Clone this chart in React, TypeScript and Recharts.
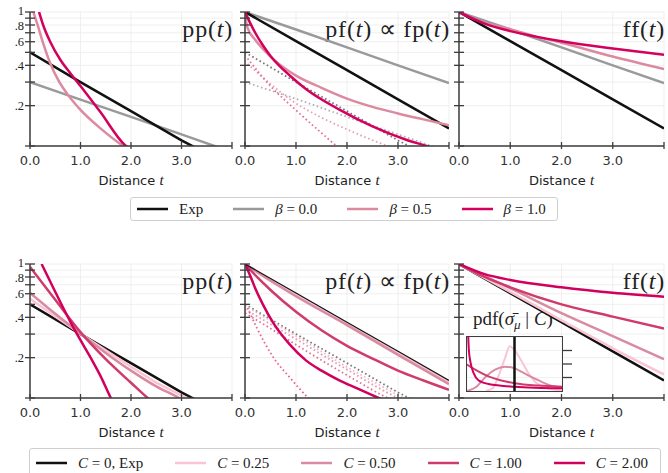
import type { ReactNode } from 'react'
import { CartesianGrid, Line, LineChart, ReferenceLine, XAxis, YAxis } from 'recharts'

type Pt = [number, number]

// ---- top row: beta family (t, value) ----
const PP_EXP: Pt[] = [[0, 0.5], [1, 0.3], [2, 0.182], [3, 0.11], [3.4, 0.092]]
const PP_B0: Pt[] = [[0, 0.3], [1, 0.222], [2, 0.165], [3, 0.122], [4, 0.09]]
const PP_B05: Pt[] = [[0.066, 1], [0.16, 0.78], [0.26, 0.585], [0.4, 0.415], [0.56, 0.31], [0.73, 0.247], [1, 0.186], [1.39, 0.136], [1.85, 0.1], [1.95, 0.095]]
const PP_B1: Pt[] = [[0.18, 1], [0.26, 0.8], [0.4, 0.6], [0.6, 0.44], [0.81, 0.345], [1, 0.28], [1.39, 0.18], [1.9, 0.1], [2, 0.094]]

const PF_EXP: Pt[] = [[0, 1], [1, 0.607], [2, 0.368], [3, 0.223], [4, 0.135]]
const PF_B0: Pt[] = [[0, 1], [1, 0.74], [2, 0.545], [3, 0.4], [4, 0.295]]
const PF_B05: Pt[] = [[0, 0.95], [0.05, 0.76], [0.2, 0.62], [0.5, 0.465], [1, 0.335], [1.5, 0.272], [2, 0.226], [2.5, 0.196], [3, 0.175], [3.5, 0.158], [4, 0.143]]
const PF_B1: Pt[] = [[0, 1], [0.1, 0.83], [0.2, 0.7], [0.35, 0.565], [0.5, 0.47], [0.9, 0.33], [1.2, 0.265], [1.86, 0.186], [2.5, 0.14], [3.2, 0.11], [3.56, 0.1], [3.7, 0.096]]
const PF_DOT_EXP: Pt[] = [[0, 0.5], [1, 0.3], [2, 0.182], [3, 0.11], [3.4, 0.092]]
const PF_DOT_B0: Pt[] = [[0, 0.3], [1, 0.225], [2, 0.165], [3, 0.122], [3.8, 0.096]]
const PF_DOT_B05: Pt[] = [[0.05, 0.41], [0.5, 0.29], [0.95, 0.214], [1.5, 0.163], [2.06, 0.13], [2.8, 0.1], [2.9, 0.097]]
const PF_DOT_B1: Pt[] = [[0.05, 0.45], [0.5, 0.28], [1, 0.185], [1.5, 0.125], [1.8, 0.1], [1.9, 0.094]]

const FF_B05: Pt[] = [[0, 1], [0.5, 0.83], [1, 0.745], [1.5, 0.655], [2, 0.59], [3, 0.465], [4, 0.375]]
const FF_B1: Pt[] = [[0, 1], [0.5, 0.82], [1, 0.72], [1.5, 0.655], [2, 0.605], [3, 0.535], [4, 0.48]]

// ---- bottom row: C family ----
const PP_C025: Pt[] = [[0, 0.55], [0.5, 0.405], [1, 0.302], [1.5, 0.227], [2, 0.171], [2.5, 0.13], [3.1, 0.1], [3.2, 0.096]]
const PP_C05: Pt[] = [[0, 0.61], [0.5, 0.425], [1, 0.302], [1.5, 0.217], [2, 0.16], [2.5, 0.122], [2.95, 0.1], [3.05, 0.095]]
const PP_C1: Pt[] = [[0, 0.95], [0.5, 0.54], [1, 0.31], [1.5, 0.195], [2, 0.13], [2.33, 0.1], [2.45, 0.092]]
const PP_C2: Pt[] = [[0.23, 1], [0.4, 0.74], [0.6, 0.52], [0.8, 0.37], [1, 0.27], [1.2, 0.2], [1.4, 0.145], [1.6, 0.1], [1.7, 0.085]]

const PF_C025: Pt[] = [[0, 1], [0.5, 0.77], [1, 0.59], [2, 0.358], [3, 0.216], [4, 0.131]]
const PF_C05: Pt[] = [[0, 1], [0.5, 0.75], [1, 0.575], [2, 0.35], [3, 0.21], [4, 0.127]]
const PF_C1: Pt[] = [[0, 1], [0.25, 0.79], [0.5, 0.64], [1, 0.44], [1.5, 0.32], [2, 0.245], [2.5, 0.197], [3, 0.16], [3.5, 0.135], [4, 0.115]]
const PF_C2: Pt[] = [[0, 1], [0.1, 0.82], [0.2, 0.66], [0.35, 0.5], [0.56, 0.36], [0.88, 0.25], [1.2, 0.19], [1.5, 0.16], [1.86, 0.135], [2.2, 0.118], [2.62, 0.1], [2.75, 0.095]]
const PF_DOT_C025: Pt[] = [[0, 0.49], [1, 0.29], [2, 0.17], [3.1, 0.1], [3.2, 0.096]]
const PF_DOT_C05: Pt[] = [[0, 0.46], [1, 0.275], [2, 0.163], [3, 0.1], [3.1, 0.096]]
const PF_DOT_C1: Pt[] = [[0, 0.43], [0.5, 0.33], [1, 0.25], [2, 0.148], [2.8, 0.1], [2.9, 0.096]]
const PF_DOT_C2: Pt[] = [[0.05, 0.47], [0.23, 0.335], [0.56, 0.2], [0.88, 0.142], [1.24, 0.1], [1.3, 0.095]]

const FF_C025: Pt[] = [[0, 1], [1, 0.62], [2, 0.38], [3, 0.235], [4, 0.15]]
const FF_C05: Pt[] = [[0, 1], [1, 0.66], [2, 0.43], [3, 0.29], [4, 0.195]]
const FF_C1: Pt[] = [[0, 1], [0.5, 0.8], [1, 0.67], [2, 0.5], [3, 0.405], [4, 0.33]]
const FF_C2: Pt[] = [[0, 1], [0.5, 0.84], [1, 0.76], [2, 0.67], [3, 0.61], [4, 0.57]]

// inset: pdf of sigma_mu given C
const PDF_C025: Pt[] = [[0.4, 0], [0.55, 0.06], [0.66, 0.27], [0.8, 0.61], [0.9, 0.83], [1, 0.76], [1.15, 0.55], [1.3, 0.32], [1.43, 0.17], [1.7, 0.05], [2, 0.01]]
const PDF_C05: Pt[] = [[0, 0], [0.2, 0.08], [0.4, 0.27], [0.6, 0.4], [0.8, 0.45], [1, 0.42], [1.2, 0.33], [1.5, 0.2], [1.8, 0.09], [2, 0.05]]
const PDF_C1: Pt[] = [[0, 0.49], [0.2, 0.38], [0.45, 0.27], [0.7, 0.2], [1, 0.145], [1.5, 0.1], [2, 0.08]]
const PDF_C2: Pt[] = [[0.02, 1.15], [0.04, 0.75], [0.07, 0.55], [0.14, 0.33], [0.24, 0.2], [0.45, 0.13], [1, 0.08], [2, 0.05]]

const X_TICKS = [0, 1, 2, 3, 4]
const Y_TICKS = [0.1, 0.2, 0.3, 0.4, 0.5, 0.6, 0.7, 0.8, 0.9, 1]
const Y_LABELS: Record<string, string> = { '1': '1', '0.8': '.8', '0.6': '.6', '0.4': '.4', '0.2': '.2' }

const COL = {
  exp: '#111111',
  b0: '#9a9a9a',
  b05: '#dc8aa0',
  b1: '#d3005d',
  c025: '#fbc4d5',
  c05: '#d98ba1',
  c1: '#cf3c6b',
  c2: '#d1005e',
}

const SANS = '"DejaVu Sans", sans-serif'
const SERIF = '"Liberation Serif", serif'
const AXIS_COLOR = '#3d3d3d'
const AXIS_LINE = { stroke: AXIS_COLOR, strokeWidth: 1.5 }

const AXIS_W = 30
const PAD_TOP = 12
const PAD_RIGHT = 4
const X_H = 46
const PLOT_H = 134
const ROW_TOP = [12, 264]
const COLS = [
  { left: 30, w: 202 },
  { left: 245, w: 204 },
  { left: 459, w: 205 },
]

type Series = { d: Pt[]; c: string; sw?: number; dot?: boolean; curve?: boolean; op?: number }

const rows = (d: Pt[]) => d.map(([t, v]) => ({ t, v }))

function XTick(p: any) {
  const v = p.payload.value
  return (
    <g>
      <line x1={p.x} x2={p.x} y1={p.y - 4} y2={p.y + 3} stroke={AXIS_COLOR} strokeWidth={1.3} />
      {v < 4 && (
        <text x={p.x} y={p.y + 19} textAnchor="middle" fontFamily={SANS} fontSize={13} fill="#333">
          {v.toFixed(1)}
        </text>
      )}
    </g>
  )
}

function YTick(p: any) {
  const v = p.payload.value
  const lab = p.labels ? Y_LABELS[String(v)] : undefined
  return (
    <g>
      <line x1={p.x - 5} x2={p.x + 5} y1={p.y} y2={p.y} stroke={AXIS_COLOR} strokeWidth={1.3} />
      {lab && (
        <text x={p.x - 6} y={p.y + (v === 1 ? -1 : 1)} dy="0.3em" textAnchor="end" fontFamily={SERIF} fontSize={12.5} fill="#222">
          {lab}
        </text>
      )}
    </g>
  )
}

function Title({ w, children }: { w: number; children: ReactNode }) {
  return (
    <text x={AXIS_W + w + 1} y={PAD_TOP + 25} textAnchor="end" fontFamily={SERIF} fontSize={24} letterSpacing={0.8} fill="#222">
      {children}
    </text>
  )
}

const It = ({ children }: { children: ReactNode }) => <tspan fontStyle="italic">{children}</tspan>

function Panel({ row, col, series, title, labels, extra }: { row: number; col: number; series: Series[]; title: ReactNode; labels: boolean; extra?: ReactNode }) {
  const { left, w } = COLS[col]
  const top = ROW_TOP[row]
  return (
    <div style={{ position: 'absolute', left: left - AXIS_W, top: top - PAD_TOP }}>
      <LineChart width={w + AXIS_W + PAD_RIGHT} height={PLOT_H + PAD_TOP + X_H} margin={{ top: PAD_TOP, right: PAD_RIGHT, bottom: 0, left: 0 }}>
        <CartesianGrid stroke="#ebebeb" strokeWidth={0.8} />
        <XAxis type="number" dataKey="t" domain={[0, 4]} ticks={X_TICKS} interval={0} allowDataOverflow height={X_H} tickSize={0} tickMargin={0} axisLine={AXIS_LINE} tickLine={false} tick={<XTick />} />
        <XAxis xAxisId="top" orientation="top" type="number" dataKey="t" domain={[0, 4]} height={0} tick={false} tickLine={false} axisLine={AXIS_LINE} />
        <YAxis type="number" scale="log" domain={[0.1, 1]} ticks={Y_TICKS} interval={0} allowDataOverflow width={AXIS_W} tickSize={0} tickMargin={0} axisLine={AXIS_LINE} tickLine={false} tick={(p: any) => <YTick {...p} labels={labels} />} />
        <YAxis yAxisId="right" orientation="right" type="number" domain={[0.1, 1]} width={0} tick={false} tickLine={false} axisLine={AXIS_LINE} />
        {series.map((s, i) => (
          <Line
            key={i}
            data={rows(s.d)}
            dataKey="v"
            type={s.curve ? 'monotone' : 'linear'}
            stroke={s.c}
            strokeWidth={s.sw ?? (s.dot ? 1.8 : 2.5)}
            strokeDasharray={s.dot ? '1.6 2.6' : undefined}
            strokeOpacity={s.op ?? 1}
            dot={false}
            activeDot={false}
            isAnimationActive={false}
          />
        ))}
        <Title w={w}>{title}</Title>
        <text x={AXIS_W + w / 2} y={PAD_TOP + PLOT_H + 39} textAnchor="middle" fontFamily={SANS} fontSize={13} fill="#222">
          Distance <tspan fontFamily={SERIF} fontStyle="italic" fontSize={15}>t</tspan>
        </text>
        {extra}
      </LineChart>
    </div>
  )
}

// inset plot rectangle (page coordinates)
const INSET = { left: 467, top: 337, w: 95, h: 54 }

function Inset() {
  const series: Series[] = [
    { d: PDF_C025, c: COL.c025 },
    { d: PDF_C05, c: COL.c05 },
    { d: PDF_C1, c: COL.c1 },
    { d: PDF_C2, c: COL.c2 },
  ]
  return (
    <>
      <div style={{ position: 'absolute', left: INSET.left, top: INSET.top, width: INSET.w, height: INSET.h, background: '#fff' }} />
      <div style={{ position: 'absolute', left: INSET.left, top: INSET.top }}>
        <LineChart width={INSET.w + 12} height={INSET.h} margin={{ top: 0, right: 0, bottom: 0, left: 0 }}>
          <CartesianGrid stroke="#ececec" strokeWidth={0.8} />
          <XAxis type="number" dataKey="t" domain={[0, 2]} ticks={[0, 0.5, 1, 1.5, 2]} allowDataOverflow height={0} tick={false} tickLine={false} axisLine={false} />
          <YAxis orientation="right" type="number" domain={[0, 1]} ticks={[0, 0.25, 0.5, 0.75, 1]} interval={0} allowDataOverflow width={12} tickSize={0} tickMargin={0} axisLine={false} tickLine={false}
            tick={(p: any) => (p.payload.value > 0 && p.payload.value < 1 ? <line x1={p.x} x2={p.x + 10} y1={p.y} y2={p.y} stroke={AXIS_COLOR} strokeWidth={1.3} /> : <g />)} />
          {series.map((s, i) => (
            <Line key={i} data={rows(s.d)} dataKey="v" type="monotone" stroke={s.c} strokeWidth={2} dot={false} activeDot={false} isAnimationActive={false} />
          ))}
          <ReferenceLine x={1} stroke={COL.exp} strokeWidth={2.5} />
        </LineChart>
      </div>
      <div style={{ position: 'absolute', left: INSET.left - 1, top: INSET.top - 1, width: INSET.w + 2, height: INSET.h + 2, boxSizing: 'border-box', border: `1.5px solid ${AXIS_COLOR}`, pointerEvents: 'none' }} />
    </>
  )
}

function LegendBox({ left, top, width, height, items, gap }: { left: number; top: number; width: number; height: number; items: { c: string; sw?: number; label: ReactNode }[]; gap: number }) {
  return (
    <div style={{ position: 'absolute', left, top, width, height, boxSizing: 'border-box', border: '1px solid #cfcfcf', borderRadius: 3, background: '#fff', display: 'flex', alignItems: 'flex-start', paddingLeft: 6, paddingTop: height > 26 ? 3 : 0, gap, fontFamily: SERIF, fontSize: 15, color: '#222' }}>
      {items.map((it, i) => (
        <div key={i} style={{ display: 'flex', alignItems: 'center', height: 22, whiteSpace: 'nowrap' }}>
          <svg width={31} height={6} style={{ marginRight: 11 }}>
            <line x1={0} x2={31} y1={3} y2={3} stroke={it.c} strokeWidth={it.sw ?? 2.5} />
          </svg>
          <span>{it.label}</span>
        </div>
      ))}
    </div>
  )
}

const Ital = ({ children }: { children: ReactNode }) => <span style={{ fontStyle: 'italic' }}>{children}</span>

export default function App() {
  const ppTitle = <>pp(<It>t</It>)</>
  const pfTitle = <>pf(<It>t</It>) ∝ fp(<It>t</It>)</>
  const ffTitle = <>ff(<It>t</It>)</>
  const insetTitle = (
    <text x={INSET.left - (COLS[2].left - AXIS_W) + 6} y={325 - (ROW_TOP[1] - PAD_TOP)} fontFamily={SERIF} fontSize={19} fill="#222">
      pdf(<tspan fontStyle="italic">σ̄</tspan>
      <tspan fontStyle="italic" fontSize={13} dy={4}>μ</tspan>
      <tspan dy={-4}> | </tspan>
      <tspan fontStyle="italic">C</tspan>)
    </text>
  )
  return (
    <div style={{ position: 'absolute', left: 0, top: 0, width: 668, height: 473, background: '#fff', overflow: 'hidden' }}>
      <style>{'svg.recharts-surface{overflow:visible}'}</style>
      <Panel row={0} col={0} labels title={ppTitle} series={[
        { d: PP_B0, c: COL.b0 },
        { d: PP_EXP, c: COL.exp },
        { d: PP_B05, c: COL.b05, curve: true },
        { d: PP_B1, c: COL.b1, curve: true },
      ]} />
      <Panel row={0} col={1} labels={false} title={pfTitle} series={[
        { d: PF_DOT_EXP, c: '#555555', dot: true, op: 0.8 },
        { d: PF_DOT_B0, c: '#b0b0b0', dot: true },
        { d: PF_DOT_B05, c: '#e6a3b5', dot: true, curve: true },
        { d: PF_DOT_B1, c: '#e66c9e', dot: true, curve: true },
        { d: PF_B0, c: COL.b0 },
        { d: PF_EXP, c: COL.exp },
        { d: PF_B05, c: COL.b05, curve: true },
        { d: PF_B1, c: COL.b1, curve: true },
      ]} />
      <Panel row={0} col={2} labels={false} title={ffTitle} series={[
        { d: PF_EXP, c: COL.exp },
        { d: PF_B0, c: COL.b0 },
        { d: FF_B05, c: COL.b05, curve: true },
        { d: FF_B1, c: COL.b1, curve: true },
      ]} />
      <LegendBox left={130} top={197} width={428} height={24} gap={30} items={[
        { c: COL.exp, label: 'Exp' },
        { c: COL.b0, label: <><Ital>β</Ital> = 0.0</> },
        { c: COL.b05, label: <><Ital>β</Ital> = 0.5</> },
        { c: COL.b1, label: <><Ital>β</Ital> = 1.0</> },
      ]} />

      <Panel row={1} col={0} labels title={ppTitle} series={[
        { d: PP_EXP, c: COL.exp },
        { d: PP_C025, c: COL.c025 },
        { d: PP_C05, c: COL.c05, curve: true },
        { d: PP_C1, c: COL.c1, curve: true },
        { d: PP_C2, c: COL.c2, curve: true },
      ]} />
      <Panel row={1} col={1} labels={false} title={pfTitle} series={[
        { d: PF_DOT_EXP, c: '#555555', dot: true, op: 0.8 },
        { d: PF_DOT_C025, c: '#f5b5c9', dot: true },
        { d: PF_DOT_C05, c: '#e29aaf', dot: true, curve: true },
        { d: PF_DOT_C1, c: '#e07399', dot: true, curve: true },
        { d: PF_DOT_C2, c: '#e8609a', dot: true, curve: true },
        { d: PF_C025, c: COL.c025 },
        { d: PF_C05, c: COL.c05, curve: true },
        { d: PF_C1, c: COL.c1, curve: true },
        { d: PF_C2, c: COL.c2, curve: true },
        { d: PF_EXP, c: COL.exp, sw: 1.2 },
      ]} />
      <Panel row={1} col={2} labels={false} title={ffTitle} extra={insetTitle} series={[
        { d: PF_EXP, c: COL.exp },
        { d: FF_C025, c: COL.c025, curve: true },
        { d: FF_C05, c: COL.c05, curve: true },
        { d: FF_C1, c: COL.c1, curve: true },
        { d: FF_C2, c: COL.c2, curve: true },
      ]} />
      <Inset />
      <LegendBox left={29} top={448} width={632} height={32} gap={32} items={[
        { c: COL.exp, label: <><Ital>C</Ital> = 0, Exp</> },
        { c: COL.c025, label: <><Ital>C</Ital> = 0.25</> },
        { c: COL.c05, label: <><Ital>C</Ital> = 0.50</> },
        { c: COL.c1, label: <><Ital>C</Ital> = 1.00</> },
        { c: COL.c2, label: <><Ital>C</Ital> = 2.00</> },
      ]} />
    </div>
  )
}
